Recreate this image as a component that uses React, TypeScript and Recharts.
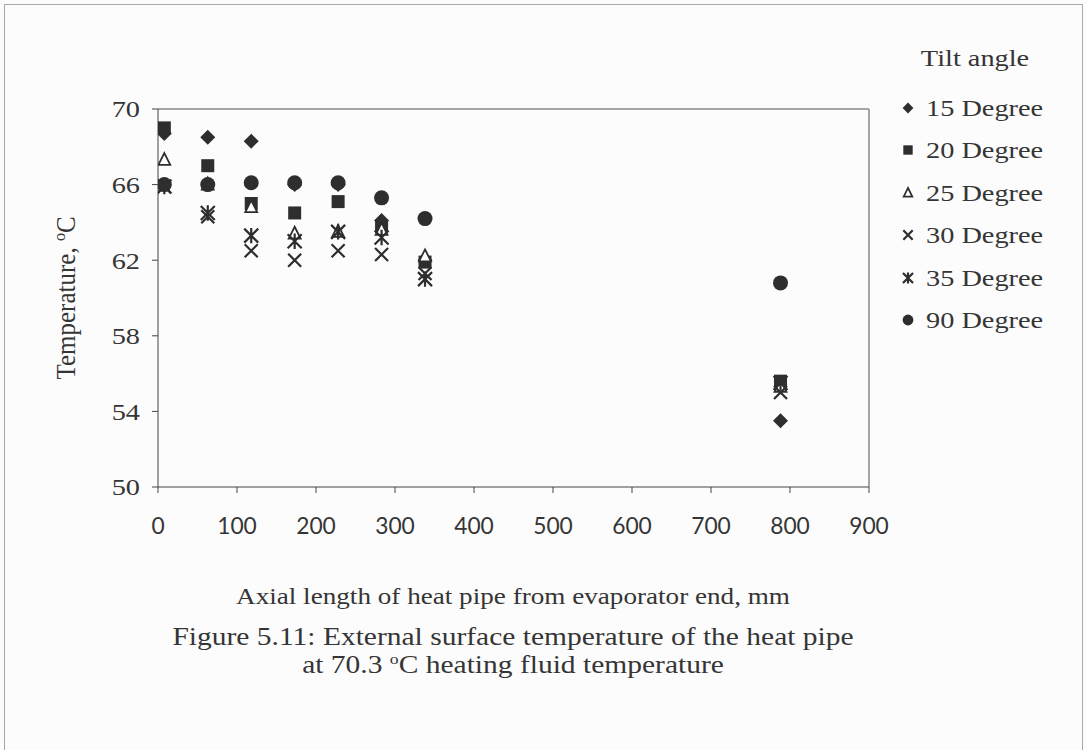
import React from "react";
import { ScatterChart, Scatter, XAxis, YAxis, ReferenceLine } from "recharts";

const positions = [8, 63, 118, 173, 228, 283, 338, 788];
const deg15 = [68.7, 68.5, 68.3, 66.0, 66.0, 64.1, 62.0, 53.5];
const deg20 = [69.0, 67.0, 65.0, 64.5, 65.1, 63.8, 61.9, 55.6];
const deg25 = [67.3, 66.0, 64.8, 63.4, 63.5, 63.6, 62.2, 55.3];
const deg30 = [65.9, 64.3, 62.5, 62.0, 62.5, 62.3, 61.3, 55.0];
const deg35 = [65.9, 64.5, 63.3, 63.0, 63.5, 63.2, 61.0, 55.5];
const deg90 = [66.0, 66.0, 66.1, 66.1, 66.1, 65.3, 64.2, 60.8];

const xTicks = [0, 100, 200, 300, 400, 500, 600, 700, 800, 900];
const yTicks = [50, 54, 58, 62, 66, 70];

const seriesNames = ["15 Degree", "20 Degree", "25 Degree", "30 Degree", "35 Degree", "90 Degree"];
const seriesValues = [deg15, deg20, deg25, deg30, deg35, deg90];
const markerKinds = ["diamond", "square", "triangle", "x", "star", "circle"];

const INK = "#2e2e2e";
const TEXT = "#353535";
const SERIF = "'Liberation Serif', 'DejaVu Serif', serif";
const STRETCH = 1.18;

function drawMarker(kind: string, cx: number, cy: number, s: number = 1) {
  switch (kind) {
    case "diamond": {
      const r = 7.5 * s;
      return <path d={`M${cx},${cy - r}L${cx + r},${cy}L${cx},${cy + r}L${cx - r},${cy}Z`} fill={INK} />;
    }
    case "square": {
      const r = 6.5 * s;
      return <rect x={cx - r} y={cy - r} width={2 * r} height={2 * r} fill={INK} />;
    }
    case "triangle": {
      const r = 7 * s;
      return (
        <path
          d={`M${cx},${cy - r}L${cx + r * 0.85},${cy + r * 0.7}L${cx - r * 0.85},${cy + r * 0.7}Z`}
          fill="#fff"
          stroke={INK}
          strokeWidth={1.8}
        />
      );
    }
    case "x": {
      const r = 6.5 * s;
      return (
        <path
          d={`M${cx - r},${cy - r}L${cx + r},${cy + r}M${cx - r},${cy + r}L${cx + r},${cy - r}`}
          stroke={INK}
          strokeWidth={2.2}
        />
      );
    }
    case "star": {
      const r = 7 * s;
      return (
        <path
          d={`M${cx - r},${cy - r}L${cx + r},${cy + r}M${cx - r},${cy + r}L${cx + r},${cy - r}M${cx},${cy - r * 1.1}L${cx},${cy + r * 1.1}`}
          stroke={INK}
          strokeWidth={2.2}
        />
      );
    }
    default: {
      return <circle cx={cx} cy={cy} r={7.5 * s} fill={INK} />;
    }
  }
}

const makeShape = (kind: string) => (props: any) => {
  const { cx, cy } = props;
  if (cx == null || cy == null) return <g />;
  return <g>{drawMarker(kind, cx, cy)}</g>;
};

const seriesData = seriesValues.map((vals) => vals.map((y, i) => ({ x: positions[i], y })));

const YTick = (props: any) => {
  const { x, y, payload } = props;
  return (
    <text
      x={0}
      y={0}
      dy="0.35em"
      textAnchor="end"
      fill={TEXT}
      fontSize={24}
      fontFamily={SERIF}
      transform={`translate(${x} ${y}) scale(${STRETCH} 1)`}
    >
      {payload.value}
    </text>
  );
};

const XTick = (props: any) => {
  const { x, y, payload } = props;
  return (
    <text
      x={0}
      y={0}
      dy="0.71em"
      textAnchor="middle"
      fill={TEXT}
      fontSize={24}
      fontFamily="Lato, sans-serif"
      transform={`translate(${x} ${y}) scale(0.95 1)`}
    >
      {payload.value}
    </text>
  );
};

const stretched = (extra: React.CSSProperties = {}): React.CSSProperties => ({
  position: "absolute",
  fontFamily: SERIF,
  color: TEXT,
  whiteSpace: "nowrap",
  transform: `translate(-50%, -50%) scaleX(${STRETCH})`,
  ...extra,
});

export default function App() {
  return (
    <div
      style={{
        position: "absolute",
        left: 0,
        top: 0,
        width: 1087,
        height: 750,
        background: "#fcfcfc",
        overflow: "hidden",
      }}
    >
      <div
        style={{
          position: "absolute",
          left: 4,
          top: 4,
          width: 1079,
          height: 760,
          border: "1.5px solid #a8a8a8",
          boxSizing: "border-box",
        }}
      />
      <div style={{ position: "absolute", left: 0, top: 0 }}>
        <ScatterChart width={1087} height={750} margin={{ top: 109, right: 218, bottom: 233, left: 98 }}>
          <XAxis
            type="number"
            dataKey="x"
            domain={[0, 900]}
            ticks={xTicks}
            allowDataOverflow
            stroke="#444"
            tickSize={6}
            tickMargin={24}
            height={30}
            tick={<XTick />}
          />
          <YAxis
            type="number"
            dataKey="y"
            domain={[50, 70]}
            ticks={yTicks}
            allowDataOverflow
            stroke="#444"
            tickSize={6}
            tickMargin={12}
            width={60}
            tick={<YTick />}
          />
          <ReferenceLine y={70} stroke="#8a8a8a" strokeWidth={1.5} />
          <ReferenceLine x={900} stroke="#8a8a8a" strokeWidth={1.5} />
          {seriesNames.map((name, i) => (
            <Scatter
              key={name}
              name={name}
              data={seriesData[i]}
              fill={INK}
              shape={makeShape(markerKinds[i])}
              isAnimationActive={false}
            />
          ))}
        </ScatterChart>
      </div>

      {/* Legend */}
      <div style={stretched({ left: 975, top: 58, fontSize: 24 })}>Tilt angle</div>
      {seriesNames.map((name, i) => (
        <React.Fragment key={name}>
          <svg
            width={20}
            height={20}
            style={{ position: "absolute", left: 898, top: 108 + i * 42.4 - 10 }}
          >
            {drawMarker(markerKinds[i], 10, 10, 0.72)}
          </svg>
          <div
            style={{
              position: "absolute",
              left: 926,
              top: 108 + i * 42.4,
              fontFamily: SERIF,
              fontSize: 24,
              color: TEXT,
              whiteSpace: "nowrap",
              transformOrigin: "0 0",
              transform: `scaleX(${STRETCH}) translateY(-50%)`,
              lineHeight: "28px",
            }}
          >
            {name}
          </div>
        </React.Fragment>
      ))}

      {/* Y axis title */}
      <div
        style={{
          position: "absolute",
          left: 63,
          top: 298,
          transform: "translate(-50%, -50%) rotate(-90deg) scaleY(1.1)",
          fontFamily: SERIF,
          fontSize: 25,
          color: TEXT,
          whiteSpace: "nowrap",
          lineHeight: "28px",
        }}
      >
        Temperature, <sup style={{ fontSize: 16 }}>o</sup>C
      </div>

      {/* X axis title */}
      <div style={stretched({ left: 513, top: 597, fontSize: 23, lineHeight: "28px" })}>
        Axial length of heat pipe from evaporator end, mm
      </div>

      {/* Caption */}
      <div style={stretched({ left: 513, top: 637, fontSize: 25, lineHeight: "28px" })}>
        Figure 5.11: External surface temperature of the heat pipe
      </div>
      <div style={stretched({ left: 513, top: 665, fontSize: 25, lineHeight: "28px" })}>
        at 70.3 <sup style={{ fontSize: 15, lineHeight: 0 }}>o</sup>C heating fluid temperature
      </div>
    </div>
  );
}
